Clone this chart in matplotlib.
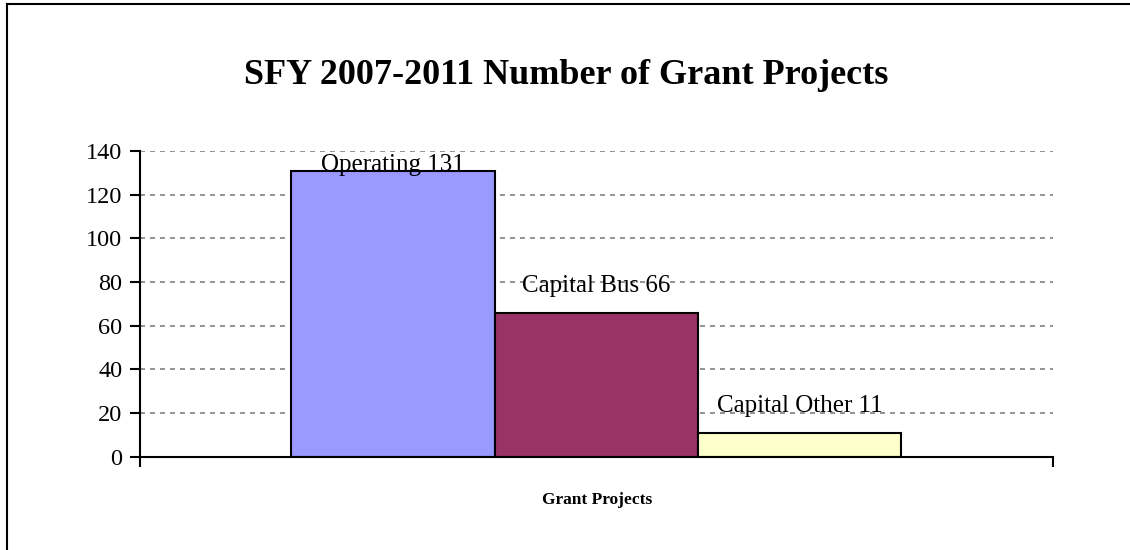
import matplotlib
matplotlib.use("Agg")
import matplotlib.pyplot as plt
from matplotlib.lines import Line2D

categories = ["Operating", "Capital Bus", "Capital Other"]
values = [131, 66, 11]
colors = ["#9999FF", "#993366", "#FFFFCC"]
yticks = [0, 20, 40, 60, 80, 100, 120, 140]

plt.rcParams['font.family'] = ['Liberation Serif', 'DejaVu Serif']

fig = plt.figure(figsize=(11.3, 5.5), dpi=100)
ax = fig.add_axes([139.5/1130, 1-456.7/550, (1053-139.5)/1130, (456.7-151)/550])

width = 0.2225
n = len(values)
start = 0.5 - width*n/2
for i, (c, v, col) in enumerate(zip(categories, values, colors)):
    x0 = start + i*width
    ax.bar(x0, v, width=width, align='edge', color=col, edgecolor='black', linewidth=1.5, zorder=3)
    ty = min(v + 12.4, 133.6)
    ax.text(x0 + width/2, ty, f"{c} {v}", ha='center', va='center', fontsize=18, zorder=4)

ax.set_xlim(0, 1)
ax.set_ylim(0, 140)
ax.set_yticks(yticks)
ax.set_yticklabels([str(t) for t in yticks], fontsize=17.5)
ax.set_xticks([0, 1])
ax.set_xticklabels([])
ax.tick_params(axis='y', direction='out', length=7, width=1.5, pad=5.5)
ax.tick_params(axis='x', direction='out', length=7, width=1.5)
for t in yticks[1:]:
    ax.axhline(t, color='#808080', linestyle=(0, (3, 3)), linewidth=1.2, zorder=1)
ax.spines['top'].set_visible(False)
ax.spines['right'].set_visible(False)
ax.spines['left'].set_linewidth(1.5)
ax.spines['bottom'].set_linewidth(1.5)
ax.spines['bottom'].set_zorder(5)

fig.text(566/1130, 1-75/550, "SFY 2007-2011 Number of Grant Projects", ha='center', va='center',
         fontsize=26, fontweight='bold')
fig.text(597/1130, 1-500/550, "Grant Projects", ha='center', va='center', fontsize=12.5, fontweight='bold')

# outer chart-area border (left and top edges visible)
fig.lines.append(Line2D([6.5/1130, 6.5/1130], [0, 1-4/550], transform=fig.transFigure,
                        color='black', linewidth=1.5))
fig.lines.append(Line2D([6.5/1130, 1], [1-4/550, 1-4/550], transform=fig.transFigure,
                        color='black', linewidth=1.5))

fig.savefig("out.png", dpi=100)
